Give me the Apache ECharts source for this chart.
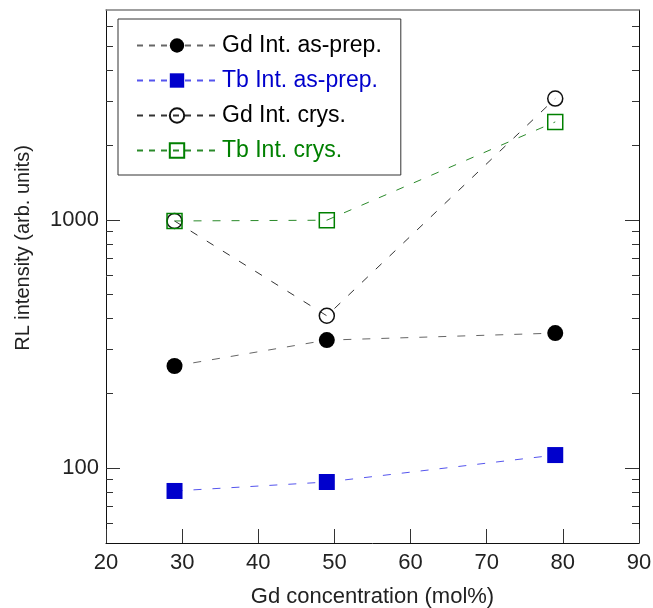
<!DOCTYPE html>
<html>
<head>
<meta charset="utf-8">
<script src="https://cdn.jsdelivr.net/npm/echarts@6/dist/echarts.min.js"></script>
<style>
html,body{margin:0;padding:0;background:#fff;}
#chart{width:653px;height:608px;}
</style>
</head>
<body>
<div id="chart"></div>
<script>
// ---- data ----
var gdConc = [29, 49, 79];
var gdAsPrep = [258, 328, 350];
var tbAsPrep = [81, 88, 113];
var gdCrys = [990, 411, 3080];
var tbCrys = [990, 997, 2480];
var seriesNames = ['Gd Int. as-prep.', 'Tb Int. as-prep.', 'Gd Int. crys.', 'Tb Int. crys.'];
var yMajorTicks = [100, 1000];
var yMinorTicks = [60, 70, 80, 90, 200, 300, 400, 500, 600, 700, 800, 900, 2000, 3000, 4000, 5000, 6000];
var xTickLabels = [20, 30, 40, 50, 60, 70, 80, 90];

function pairs(xs, ys) { return xs.map(function (x, i) { return [x, ys[i]]; }); }

var FONT = "'Liberation Sans', Arial, sans-serif";
var chart = echarts.init(document.getElementById('chart'), null, {renderer: 'canvas'});

function yAxisDef(pos, major) {
  return {
    type: 'log', logBase: 10, min: 50, max: 7000, position: pos,
    axisLine: {show: major, lineStyle: {color: '#111', width: 1}},
    axisTick: {show: true, inside: true, length: major ? 14 : 7,
      customValues: major ? yMajorTicks : yMinorTicks,
      lineStyle: {color: '#333', width: 1}},
    axisLabel: {show: major && pos === 'left', customValues: yMajorTicks,
      formatter: function (v) { return String(Math.round(v)); },
      fontSize: 22, fontFamily: FONT, color: '#222', margin: 7},
    splitLine: {show: false}, minorTick: {show: false}
  };
}

var option = {
  animation: false,
  backgroundColor: '#fff',
  grid: {left: 106, right: 14, top: 10, bottom: 65, containLabel: false, outerBoundsMode: 'none'},
  xAxis: [{
    type: 'value', min: 20, max: 90, interval: 10, position: 'bottom',
    name: 'Gd concentration (mol%)', nameLocation: 'middle', nameGap: 43,
    nameTextStyle: {fontSize: 22, fontFamily: FONT, color: '#222'},
    axisLine: {lineStyle: {color: '#111', width: 1}},
    axisTick: {inside: true, length: 14, lineStyle: {color: '#333'}},
    axisLabel: {fontSize: 22, fontFamily: FONT, color: '#222', margin: 9,
      customValues: xTickLabels},
    splitLine: {show: false}
  }, {
    type: 'value', min: 20, max: 90, interval: 10, position: 'top',
    axisLine: {lineStyle: {color: '#808080', width: 1.5}},
    axisTick: {show: false}, axisLabel: {show: false}, splitLine: {show: false}
  }],
  yAxis: [yAxisDef('left', true), yAxisDef('left', false), yAxisDef('right', true), yAxisDef('right', false)],
  legend: {
    orient: 'vertical', left: 118, top: 19,
    padding: [15, 19, 13, 18], itemGap: 12,
    itemWidth: 80, itemHeight: 18, itemTextGap: 9,
    borderColor: '#333', borderWidth: 1, backgroundColor: '#fff',
    textStyle: {fontSize: 23, fontFamily: FONT},
    lineStyle: {type: [6, 6]},
    data: [
      {name: seriesNames[0], textStyle: {color: '#000'}},
      {name: seriesNames[1], textStyle: {color: '#0000cc'}},
      {name: seriesNames[2], textStyle: {color: '#000'}},
      {name: seriesNames[3], textStyle: {color: '#008000'}}
    ]
  },
  graphic: [{
    type: 'text', x: 23, y: 248, rotation: Math.PI / 2,
    style: {text: 'RL intensity (arb. units)', font: '20px ' + FONT, fill: '#222',
      align: 'center', verticalAlign: 'middle'}
  }],
  series: [{
    name: seriesNames[0], type: 'line', xAxisIndex: 0, yAxisIndex: 0,
    data: pairs(gdConc, gdAsPrep), symbol: 'circle', symbolSize: 16,
    itemStyle: {color: '#000'},
    lineStyle: {color: '#666', width: 1, type: [8, 11]}
  }, {
    name: seriesNames[1], type: 'line', xAxisIndex: 0, yAxisIndex: 0,
    data: pairs(gdConc, tbAsPrep), symbol: 'rect', symbolSize: 16,
    itemStyle: {color: '#0000cc'},
    lineStyle: {color: '#5555ee', width: 1, type: [8, 11]}
  }, {
    name: seriesNames[2], type: 'line', xAxisIndex: 0, yAxisIndex: 0,
    data: pairs(gdConc, gdCrys), symbol: 'circle', symbolSize: 15,
    itemStyle: {color: 'transparent', borderColor: '#111', borderWidth: 1.5},
    lineStyle: {color: '#333', width: 1, type: [8, 11]}
  }, {
    name: seriesNames[3], type: 'line', xAxisIndex: 0, yAxisIndex: 0,
    data: pairs(gdConc, tbCrys), symbol: 'rect', symbolSize: 15,
    itemStyle: {color: 'transparent', borderColor: '#008000', borderWidth: 1.5},
    lineStyle: {color: '#2a8a2a', width: 1, type: [8, 11]}
  }]
};
chart.setOption(option);
</script>
</body>
</html>
